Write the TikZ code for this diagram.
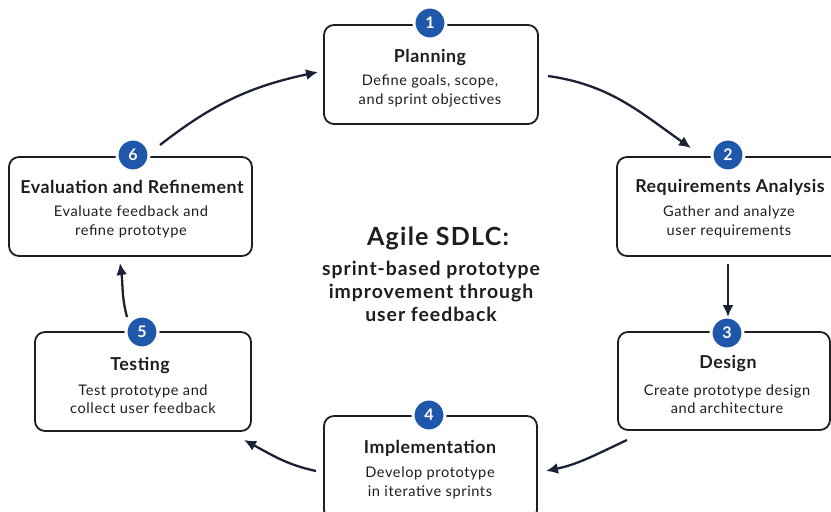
\documentclass[tikz,border=0pt]{standalone}
\usepackage{fontspec}
\setmainfont{Lato}
\newfontfamily\ttlfont[LetterSpace=3]{Lato}
\newfontfamily\descfont[LetterSpace=4]{Lato}
\newfontfamily\centerfont[LetterSpace=5]{Lato}
\usetikzlibrary{arrows.meta}
\definecolor{navy}{HTML}{1B2236}
\definecolor{badgeblue}{HTML}{1F57AA}
\definecolor{txt}{HTML}{1E1E1E}
\tikzset{
  box/.style={draw=txt, line width=1.8pt, rounded corners=10pt, fill=white, inner sep=0pt},
  badge/.style={circle, fill=badgeblue, draw=white, line width=3pt, minimum size=32pt, inner sep=0pt, text=white, font=\fontsize{16}{16}\selectfont\bfseries},
  ttl/.style={text=txt, font=\ttlfont\fontsize{17.8}{20}\selectfont\bfseries, inner sep=0pt},
  desc/.style={text=txt, align=center, font=\descfont\fontsize{14.6}{18.5}\selectfont, inner sep=0pt},
  flow/.style={draw=navy, line width=2.3pt, -{Latex[length=12pt,width=11pt]}},
  center/.style={text=txt, align=center, inner sep=0pt}
}
\begin{document}
\begin{tikzpicture}[x=1pt,y=-1pt]
\useasboundingbox (0,0) rectangle (831,512);
\clip (0,0) rectangle (831,512);
\fill[white] (0,0) rectangle (831,512);

% boxes
\node[box, minimum width=214pt, minimum height=99pt] (box1) at (431,74.5) {};
\node[box, minimum width=224pt, minimum height=99pt] (box2) at (729,206.5) {};
\node[box, minimum width=212pt, minimum height=98pt] (box3) at (724,381) {};
\node[box, minimum width=213pt, minimum height=104pt] (box4) at (430.5,468) {};
\node[box, minimum width=216pt, minimum height=99pt] (box5) at (143,381.5) {};
\node[box, minimum width=243pt, minimum height=99pt] (box6) at (130.5,206.5) {};

% badges
\node[badge] (b1) at (430,23) {1};
\node[badge] (b2) at (728,155) {2};
\node[badge] (b3) at (727,333) {3};
\node[badge] (b4) at (429,415) {4};
\node[badge] (b5) at (142,332) {5};
\node[badge] (b6) at (133,155) {6};

% titles
\node[ttl] (t1) at (430,57) {Planning};
\node[ttl] (t2) at (730,187) {Requirements Analysis};
\node[ttl] (t3) at (728,364) {Design};
\node[ttl] (t4) at (430,448) {Implementation};
\node[ttl] (t5) at (140,365) {Testing};
\node[ttl] (t6) at (132,187) {Evaluation and Refinement};

% descriptions
\node[desc] (d1) at (430,91) {Define goals, scope,\\and sprint objectives};
\node[desc] (d2) at (729,222) {Gather and analyze\\user requirements};
\node[desc] (d3) at (727,399) {Create prototype design\\and architecture};
\node[desc] (d4) at (430,483) {Develop prototype\\in iterative sprints};
\node[desc] (d5) at (143,399) {Test prototype and\\collect user feedback};
\node[desc] (d6) at (131,222) {Evaluate feedback and\\refine prototype};

% center title
\node[center, font=\centerfont\fontsize{25}{27}\selectfont\bfseries] (ct) at (438,238) {Agile SDLC:};
\node[center, font=\centerfont\fontsize{19.4}{23}\selectfont\bfseries] (cs) at (431,291) {sprint-based prototype\\improvement through\\user feedback};

% connectors
\coordinate (s61) at (160,145);
\coordinate (e61) at (318,72);
\draw[flow] (s61) to[out=38,in=192] (e61);

\coordinate (s12) at (548,76);
\coordinate (e12) at (691,148);
\draw[flow] (s12) to[out=-8,in=145] (e12);

\coordinate (s23) at (728,264);
\coordinate (e23) at (728,317);
\draw[flow] (s23) -- (e23);

\coordinate (s34) at (627,440);
\coordinate (e34) at (546,471);
\draw[flow] (s34) to[out=205,in=12] (e34);

\coordinate (s45) at (316,471);
\coordinate (e45) at (244,440);
\draw[flow] (s45) to[out=168,in=-28] (e45);

\coordinate (s56) at (127,317);
\coordinate (e56) at (120,263);
\draw[flow] (s56) to[out=105,in=-82] (e56);
\end{tikzpicture}
\end{document}
